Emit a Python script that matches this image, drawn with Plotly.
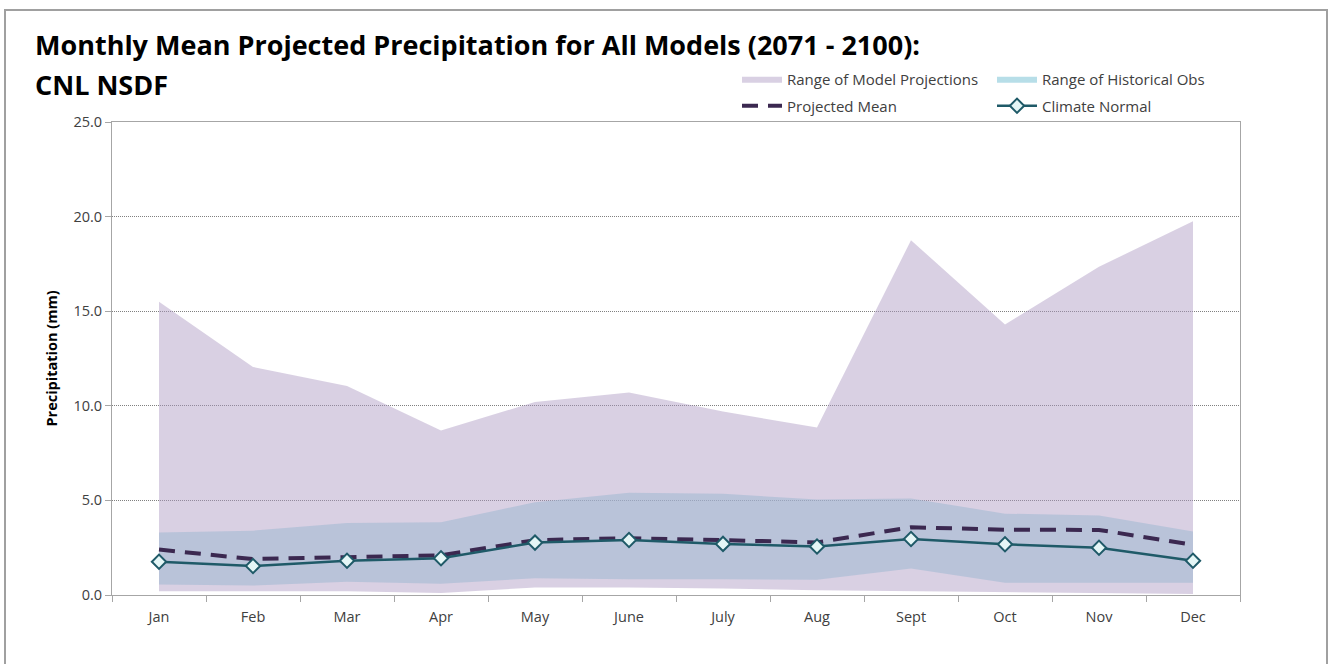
import plotly.graph_objects as go

months = ["Jan", "Feb", "Mar", "Apr", "May", "June", "July", "Aug", "Sept", "Oct", "Nov", "Dec"]
model_max = [15.5, 12.05, 11.05, 8.7, 10.2, 10.7, 9.7, 8.85, 18.75, 14.3, 17.35, 19.75]
model_min = [0.2, 0.2, 0.2, 0.1, 0.4, 0.4, 0.35, 0.25, 0.2, 0.12, 0.1, 0.05]
hist_max = [3.3, 3.4, 3.8, 3.85, 4.9, 5.4, 5.35, 5.05, 5.1, 4.3, 4.2, 3.35]
hist_min = [0.55, 0.5, 0.7, 0.6, 0.88, 0.83, 0.83, 0.8, 1.4, 0.65, 0.65, 0.65]
proj_mean = [2.4, 1.9, 2.0, 2.1, 2.9, 3.0, 2.9, 2.78, 3.58, 3.45, 3.44, 2.65]
climate_normal = [1.76, 1.53, 1.81, 1.94, 2.77, 2.91, 2.7, 2.56, 2.96, 2.68, 2.5, 1.81]
y_ticks = [0, 5, 10, 15, 20, 25]

FONT = "Open Sans"
TXT = "#404040"

fig = go.Figure()

# Range of model projections
fig.add_trace(go.Scatter(x=months, y=model_min, mode="lines", line=dict(width=0),
                         showlegend=False, hoverinfo="skip"))
fig.add_trace(go.Scatter(x=months, y=model_max, mode="lines", line=dict(width=0),
                         fill="tonexty", fillcolor="rgba(171,151,193,0.45)",
                         name="Range of Model Projections", legend="legend"))
# Range of historical obs
fig.add_trace(go.Scatter(x=months, y=hist_min, mode="lines", line=dict(width=0),
                         showlegend=False, hoverinfo="skip"))
fig.add_trace(go.Scatter(x=months, y=hist_max, mode="lines", line=dict(width=0),
                         fill="tonexty", fillcolor="rgba(159,184,209,0.55)",
                         showlegend=False))
fig.add_trace(go.Scatter(x=[None], y=[None], mode="lines", line=dict(width=0),
                         fill="toself", fillcolor="#B7DEE8",
                         name="Range of Historical Obs", legend="legend"))
# Projected mean
fig.add_trace(go.Scatter(x=months, y=proj_mean, mode="lines",
                         line=dict(color="#3B2850", width=4, dash="16px,10px"),
                         name="Projected Mean", legend="legend2"))
# Climate normal
fig.add_trace(go.Scatter(x=months, y=climate_normal, mode="lines+markers",
                         line=dict(color="#1F5A68", width=2.5),
                         marker=dict(symbol="diamond", size=11, color="#E4F6F6",
                                     line=dict(color="#1F5A68", width=2)),
                         name="Climate Normal", legend="legend2"))

legend_common = dict(orientation="h", xref="container", yref="container",
                     xanchor="left", yanchor="middle", bgcolor="rgba(0,0,0,0)",
                     font=dict(family=FONT, size=15, color=TXT),
                     entrywidthmode="pixels", entrywidth=200, traceorder="normal",
                     itemwidth=40, tracegroupgap=0)

fig.update_layout(
    width=1331, height=664,
    margin=dict(l=112, r=91, t=122, b=69, autoexpand=False),
    paper_bgcolor="white", plot_bgcolor="white",
    font=dict(family=FONT, color=TXT),
    showlegend=True,
    legend=dict(x=737 / 1331, y=1 - 79 / 664, **legend_common),
    legend2=dict(x=737 / 1331, y=1 - 106 / 664, **legend_common),
    xaxis=dict(type="category", range=[-0.5, 11.5], showline=True, linecolor="#A6A6A6",
               linewidth=1, mirror=True, ticks="outside", tickson="boundaries",
               ticklen=6, tickcolor="#A6A6A6", showgrid=False, ticklabelstandoff=9,
               tickfont=dict(family=FONT, size=14.5, color=TXT)),
    yaxis=dict(range=[0, 25], tickvals=y_ticks, tickformat=".1f", showline=True,
               linecolor="#A6A6A6", linewidth=1, mirror=True, ticks="outside",
               ticklen=6, tickcolor="#A6A6A6", showgrid=True, gridcolor="#808080",
               griddash="1px,1px", gridwidth=1, zeroline=False,
               tickfont=dict(family=FONT, size=14.5, color=TXT),
               title=dict(text="<b>Precipitation (mm)</b>", standoff=12,
                          font=dict(family=FONT, size=14.5, color="black"))),
    shapes=[dict(type="rect", xref="paper", yref="paper",
                 x0=(5 - 112) / 1128, x1=(1327 - 112) / 1128,
                 y0=(595 - 700) / 473, y1=(595 - 10) / 473,
                 line=dict(color="#A0A0A0", width=2), fillcolor="rgba(0,0,0,0)",
                 layer="below")],
    annotations=[
        dict(text="<b>Monthly Mean Projected Precipitation for All Models (2071 - 2100):</b>",
             xref="paper", yref="paper", x=(33 - 112) / 1128, y=(595 - 45) / 473,
             xanchor="left", yanchor="middle", showarrow=False,
             font=dict(family=FONT, size=27, color="black")),
        dict(text="<b>CNL NSDF</b>",
             xref="paper", yref="paper", x=(33 - 112) / 1128, y=(595 - 84) / 473,
             xanchor="left", yanchor="middle", showarrow=False,
             font=dict(family=FONT, size=27, color="black")),
    ],
)

fig.write_html("out.html")
